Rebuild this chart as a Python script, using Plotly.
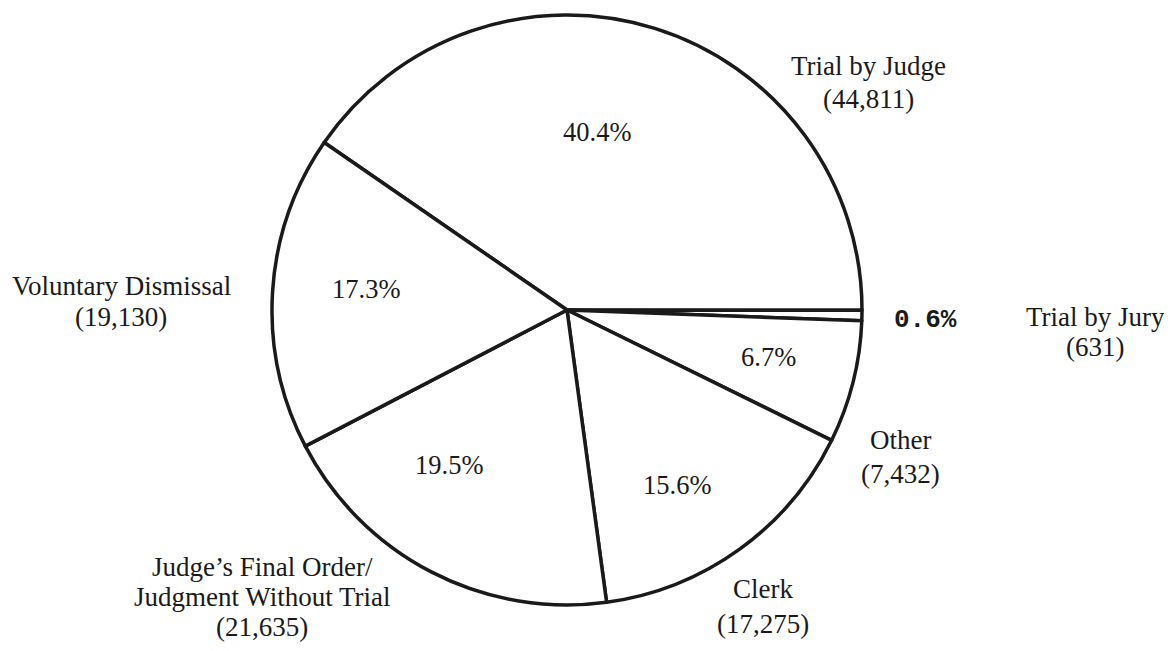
import plotly.graph_objects as go

labels = ["Trial by Judge", "Trial by Jury", "Other", "Clerk",
          "Judge's Final Order/ Judgment Without Trial", "Voluntary Dismissal"]
values = [44811, 631, 7432, 17275, 21635, 19130]
pct_text = ["40.4%", "0.6%", "6.7%", "15.6%", "19.5%", "17.3%"]
label_lines = [["Trial by Judge", "(44,811)"],
               ["Trial by Jury", "(631)"],
               ["Other", "(7,432)"],
               ["Clerk", "(17,275)"],
               ["Judge\u2019s Final Order/", "Judgment Without Trial", "(21,635)"],
               ["Voluntary Dismissal", "(19,130)"]]

W, H = 1172, 651
OFF = 8  # page body margin offset in the screenshot
cx, cy, r = 567 - OFF, 310 - OFF, 295

fig = go.Figure(go.Pie(
    labels=labels, values=values, sort=False, direction="clockwise",
    rotation=-55.4, textinfo="none", hoverinfo="label+value+percent",
    marker=dict(colors=["white"] * 6, line=dict(color="#1a1a1a", width=3.5)),
    domain=dict(x=[(cx - r) / W, (cx + r) / W], y=[1 - (cy + r) / H, 1 - (cy - r) / H]),
    showlegend=False,
))

serif = "Liberation Serif, Times New Roman, serif"
ann = []
def add(text, px, py, size, family=serif):
    ann.append(dict(text=text, x=(px - OFF) / W, y=1 - (py - OFF) / H,
                    xref="paper", yref="paper",
                    showarrow=False, xanchor="center", yanchor="middle",
                    font=dict(family=family, size=size, color="#1a1a1a")))

# percentage text centres (screen pixels)
pct_pos = [(597, 132), (925, 320), (768, 357), (677, 485), (449, 465), (366, 289)]
for i, (t, (px, py)) in enumerate(zip(pct_text, pct_pos)):
    if i == 1:
        add("<b>" + t + "</b>", px, py, 26, "Liberation Mono, Courier New, monospace")
    else:
        add(t, px, py, 26.5)

# label line centres: (x, first line y, line gap)
label_pos = [(868, 66, 33), (1095, 317, 30), (900, 440, 34), (763, 589, 35),
             (262, 567, 30), (121, 286, 31)]
for lines, (px, py, gap) in zip(label_lines, label_pos):
    for k, line in enumerate(lines):
        add(line, px, py + k * gap, 27)

fig.update_layout(
    width=W, height=H, margin=dict(l=0, r=0, t=0, b=0),
    paper_bgcolor="white", plot_bgcolor="white", annotations=ann,
)
fig.write_html("out.html")
